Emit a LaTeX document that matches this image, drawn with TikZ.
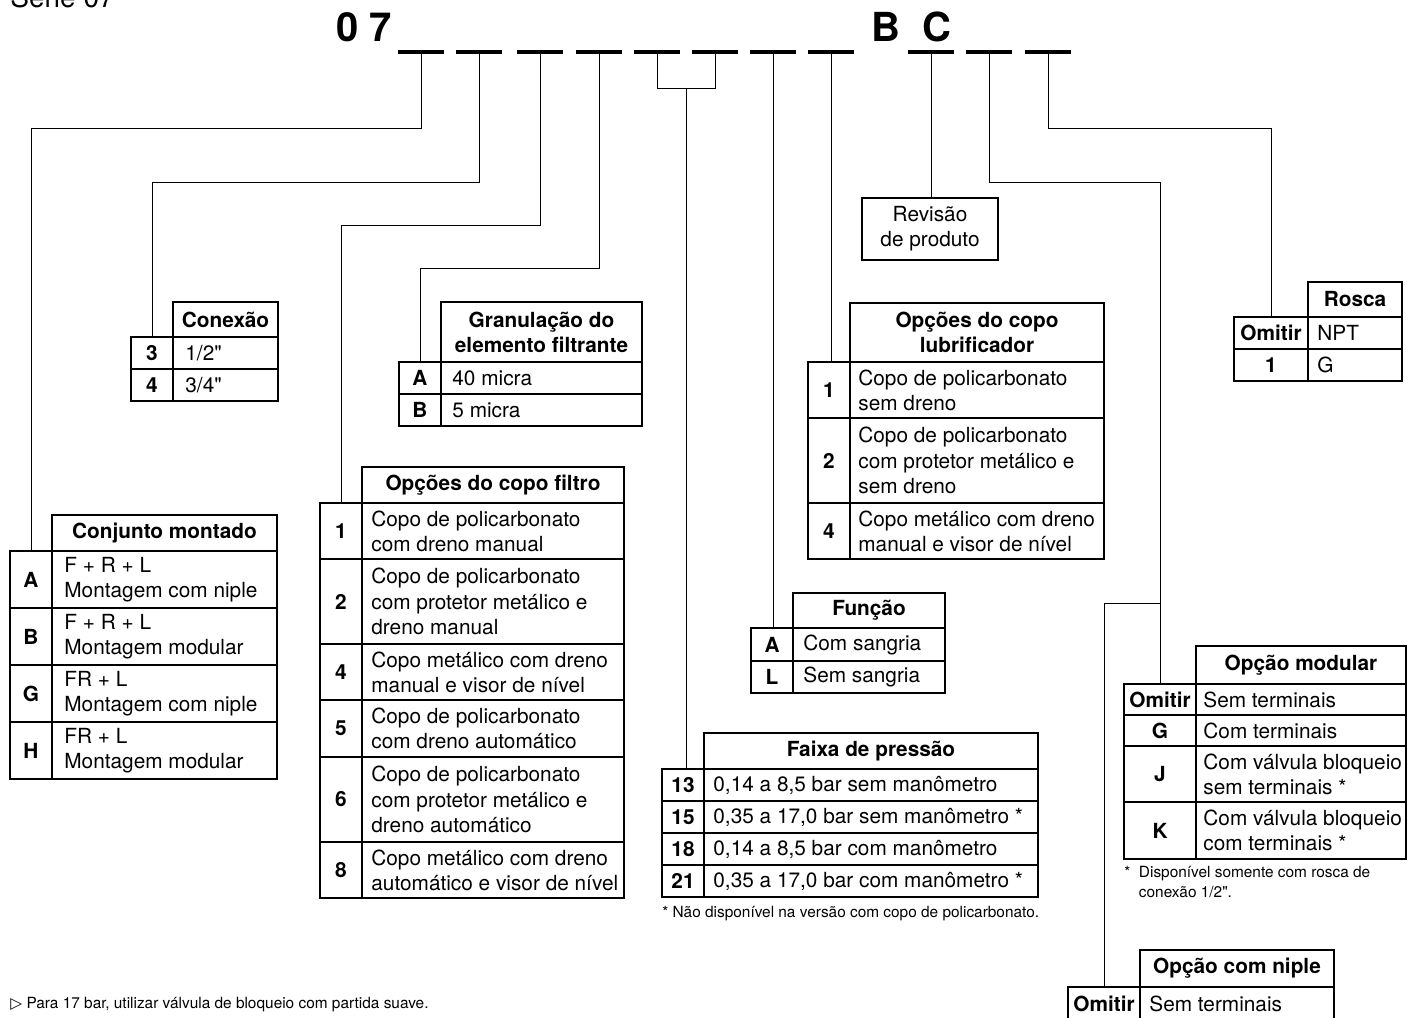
\documentclass[tikz,border=0pt]{standalone}
\usepackage{fontspec}
\setmainfont{TeX Gyre Heros}[Ligatures=TeXOff]
\newfontfamily\symfont{DejaVu Sans}
\newcommand{\tabfont}{\fontsize{10.4}{12.6}\selectfont}
\newcommand{\notefont}{\fontsize{7.7}{10}\selectfont}
\begin{document}
\begin{tikzpicture}[x=0.5pt,y=-0.5pt,
  tab/.style={line width=0.6pt},
  conn/.style={line width=0.5pt},
  bar/.style={line width=1.6pt},
  hdbox/.style={draw,tab,inner sep=0pt,outer sep=0pt,align=center,font=\tabfont\bfseries},
  codebox/.style={draw,tab,inner sep=0pt,outer sep=0pt,font=\tabfont\bfseries},
  txt/.style={anchor=west,align=left,inner sep=0pt,font=\tabfont}]
\useasboundingbox (0,0) rectangle (1411,1017);
\clip (0,0) rectangle (1411,1017);
% title and code line
\node[anchor=base west,inner sep=0pt,font=\fontsize{14}{16}\selectfont] (serie) at (10,8) {Serie 07};
\node[anchor=base west,inner sep=0pt,font=\fontsize{20}{24}\selectfont\bfseries] (pre) at (336,41) {0 7};
\node[anchor=base west,inner sep=0pt,font=\fontsize{20}{24}\selectfont\bfseries] (suf) at (871,41) {B\hspace{11pt}C};
\foreach \n/\x in {1/421,2/479,3/540,4/599,5/657,6/715,7/773,8/831,9/931,10/989,11/1048}{
  \draw[bar] (\x-23,52) -- (\x+23,52);
  \coordinate (d\n) at (\x,52);
}
% Conjunto montado
\node[hdbox,minimum width=112.5pt,minimum height=18pt] (conj) at (164.5,533) {Conjunto montado};
\foreach \ya/\yb/\c/\t in {551/608/A/{F + R + L\\Montagem com niple},608/665/B/{F + R + L\\Montagem modular},
  665/722/G/{FR + L\\Montagem com niple},722/779/H/{FR + L\\Montagem modular}}{
  \node[codebox,minimum width=21pt,minimum height={(\yb-\ya)*0.5pt}] (conj-\c) at (31,{(\ya+\yb)/2}) {\c};
  \draw[tab] (52,\ya) rectangle (277,\yb);
  \node[txt] (conj-\c-t) at (64,{(\ya+\yb)/2}) {\t};
}
% Conexao
\node[hdbox,minimum width=52.5pt,minimum height=17.5pt] (cnx) at (225.5,319.5) {Conexão};
\foreach \ya/\yb/\c/\t in {337/369/3/{1/2"},369/401/4/{3/4"}}{
  \node[codebox,minimum width=21pt,minimum height={(\yb-\ya)*0.5pt}] (cnx-\c) at (152,{(\ya+\yb)/2}) {\c};
  \draw[tab] (173,\ya) rectangle (278,\yb);
  \node[txt] (cnx-\c-t) at (185,{(\ya+\yb)/2}) {\t};
}
% Granulacao do elemento filtrante
\node[hdbox,minimum width=100.5pt,minimum height=30pt] (gran) at (541.5,332) {Granulação do\\elemento filtrante};
\foreach \ya/\yb/\c/\t in {362/394/A/40 micra,394/426/B/5 micra}{
  \node[codebox,minimum width=21pt,minimum height={(\yb-\ya)*0.5pt}] (gran-\c) at (420,{(\ya+\yb)/2}) {\c};
  \draw[tab] (441,\ya) rectangle (642,\yb);
  \node[txt] (gran-\c-t) at (452,{(\ya+\yb)/2}) {\t};
}
% Opcoes do copo filtro
\node[hdbox,minimum width=131pt,minimum height=18pt] (filt) at (493,485) {Opções do copo filtro};
\foreach \ya/\yb/\c/\t in {503/559/1/{Copo de policarbonato\\com dreno manual},
  559/644/2/{Copo de policarbonato\\com protetor metálico e\\dreno manual},
  644/700/4/{Copo metálico com dreno\\manual e visor de nível},
  700/757/5/{Copo de policarbonato\\com dreno automático},
  757/842/6/{Copo de policarbonato\\com protetor metálico e\\dreno automático},
  842/898/8/{Copo metálico com dreno\\automático e visor de nível}}{
  \node[codebox,minimum width=21pt,minimum height={(\yb-\ya)*0.5pt}] (filt-\c) at (341,{(\ya+\yb)/2}) {\c};
  \draw[tab] (362,\ya) rectangle (624,\yb);
  \node[txt] (filt-\c-t) at (371,{(\ya+\yb)/2}) {\t};
}
% Faixa de pressao
\node[hdbox,minimum width=167pt,minimum height=18pt] (fx) at (871,751) {Faixa de pressão};
\foreach \ya/\yb/\c/\t in {769/801/13/{0,14 a 8,5 bar sem manômetro},801/833/15/{0,35 a 17,0 bar sem manômetro *},
  833/865/18/{0,14 a 8,5 bar com manômetro},865/897/21/{0,35 a 17,0 bar com manômetro *}}{
  \node[codebox,minimum width=21pt,minimum height={(\yb-\ya)*0.5pt}] (fx-\c) at (683,{(\ya+\yb)/2}) {\c};
  \draw[tab] (704,\ya) rectangle (1038,\yb);
  \node[txt] (fx-\c-t) at (713,{(\ya+\yb)/2}) {\t};
}
\node[anchor=north west,inner sep=0pt,font=\notefont] (fx-nota) at (662,906) {* Não disponível na versão com copo de policarbonato.};
% Funcao
\node[hdbox,minimum width=76pt,minimum height=17.5pt] (fun) at (869,610.5) {Função};
\foreach \ya/\yb/\c/\t in {628/661/A/Com sangria,661/693/L/Sem sangria}{
  \node[codebox,minimum width=21pt,minimum height={(\yb-\ya)*0.5pt}] (fun-\c) at (772,{(\ya+\yb)/2}) {\c};
  \draw[tab] (793,\ya) rectangle (945,\yb);
  \node[txt] (fun-\c-t) at (803,{(\ya+\yb)/2}) {\t};
}
% Opcoes do copo lubrificador
\node[hdbox,minimum width=127pt,minimum height=29.5pt] (lub) at (977,332.5) {Opções do copo\\lubrificador};
\foreach \ya/\yb/\c/\t in {362/418/1/{Copo de policarbonato\\sem dreno},
  418/503/2/{Copo de policarbonato\\com protetor metálico e\\sem dreno},
  503/559/4/{Copo metálico com dreno\\manual e visor de nível}}{
  \node[codebox,minimum width=21pt,minimum height={(\yb-\ya)*0.5pt}] (lub-\c) at (829,{(\ya+\yb)/2}) {\c};
  \draw[tab] (850,\ya) rectangle (1104,\yb);
  \node[txt] (lub-\c-t) at (858,{(\ya+\yb)/2}) {\t};
}
% Revisao de produto
\node[draw,tab,inner sep=0pt,outer sep=0pt,align=center,font=\tabfont,minimum width=68pt,minimum height=31pt] (rev) at (930,229) {Revisão\\de produto};
% Rosca
\node[hdbox,minimum width=47pt,minimum height=17.5pt] (ros) at (1355,299.5) {Rosca};
\foreach \ya/\yb/\c/\t in {317/349/Omitir/NPT,349/381/1/G}{
  \node[codebox,minimum width=37pt,minimum height={(\yb-\ya)*0.5pt}] (ros-\c) at (1271,{(\ya+\yb)/2}) {\c};
  \draw[tab] (1308,\ya) rectangle (1402,\yb);
  \node[txt] (ros-\c-t) at (1317,{(\ya+\yb)/2}) {\t};
}
% Opcao modular
\node[hdbox,minimum width=105pt,minimum height=19pt] (mod) at (1301,665) {Opção modular};
\foreach \ya/\yb/\c/\t in {684/715/Omitir/Sem terminais,715/746/G/Com terminais,
  746/802/J/{Com válvula bloqueio\\sem terminais *},802/859/K/{Com válvula bloqueio\\com terminais *}}{
  \node[codebox,minimum width=36pt,minimum height={(\yb-\ya)*0.5pt}] (mod-\c) at (1160,{(\ya+\yb)/2}) {\c};
  \draw[tab] (1196,\ya) rectangle (1406,\yb);
  \node[txt] (mod-\c-t) at (1203,{(\ya+\yb)/2}) {\t};
}
\node[anchor=north west,inner sep=0pt,align=left,font=\notefont] (mod-nota) at (1124,866) {*\ \ Disponível somente com rosca de\\\phantom{*\ \ }conexão 1/2".};
% Opcao com niple
\node[hdbox,minimum width=97pt,minimum height=18.5pt] (nip) at (1237,968.5) {Opção com niple};
\foreach \ya/\yb/\c/\t in {987/1021/Omitir/Sem terminais}{
  \node[codebox,minimum width=36pt,minimum height={(\yb-\ya)*0.5pt}] (nip-\c) at (1104,{(\ya+\yb)/2}) {\c};
  \draw[tab] (1140,\ya) rectangle (1334,\yb);
  \node[txt] (nip-\c-t) at (1149,{(\ya+\yb)/2}) {\t};
}
% connectors
\draw[conn] (d1) -- ++(0,76) -| (conj-A.north);
\draw[conn] (d2) -- ++(0,130) -| (cnx-3.north);
\draw[conn] (d3) -- ++(0,173) -| (filt-1.north);
\draw[conn] (d4) -- ++(0,216) -| (gran-A.north);
\draw[conn] (d5) -- ++(0,36) -| (d6);
\coordinate (d56) at (686,88);
\draw[conn] (d56) -- (d56 |- fx-13.north);
\draw[conn] (d7) -- (d7 |- fun-A.north);
\draw[conn] (d8) -- (d8 |- lub-1.north);
\draw[conn] (d9) -- (d9 |- rev.north);
\draw[conn] (d10) -- ++(0,130) -| (mod-Omitir.north);
\draw[conn] (mod-Omitir.north |- 0,603) -| (nip-Omitir.north);
\draw[conn] (d11) -- ++(0,76) -| (ros-Omitir.north);
% footer
\node[anchor=base west,inner sep=0pt,font=\notefont] (rodape) at (10,1008) {{\symfont ▷} Para 17 bar, utilizar válvula de bloqueio com partida suave.};
\end{tikzpicture}
\end{document}
